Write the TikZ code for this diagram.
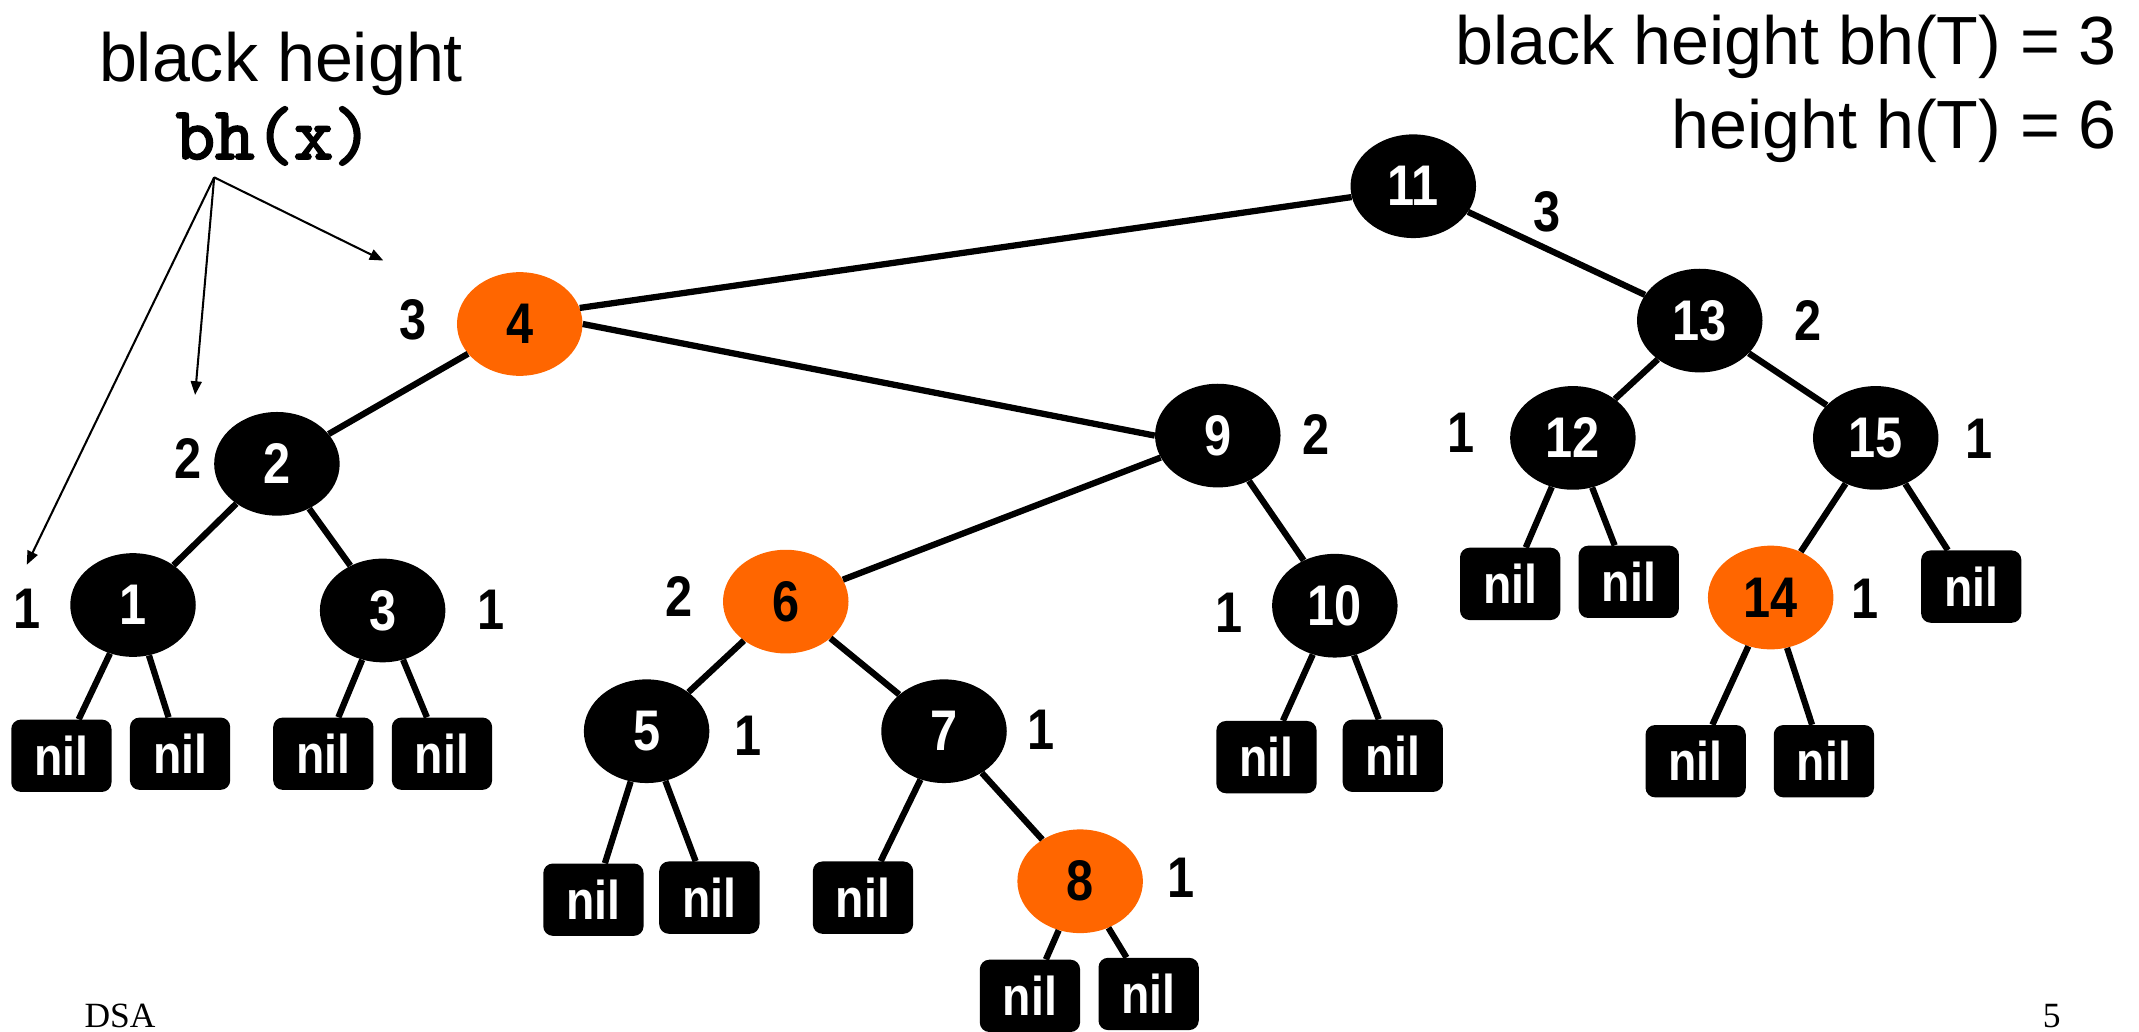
\documentclass[tikz,border=0pt]{standalone}
\usepackage{fontspec}
\setmainfont{Liberation Sans}
\newfontfamily\nb[FakeStretch=0.85]{Liberation Sans}
\newfontfamily\tms{Liberation Serif}
\newfontfamily\cmono[FakeBold=2.5]{lmmono10-regular.otf}
\usetikzlibrary{shapes.geometric,arrows.meta}
\definecolor{rbred}{RGB}{255,102,0}
\tikzset{
  rbnode/.style={ellipse, minimum width=92pt, minimum height=76pt, inner sep=0pt,
    font={\nb\bfseries\fontsize{42}{42}\selectfont}},
  blk/.style={rbnode, fill=black, text=white},
  redn/.style={rbnode, fill=rbred, text=black},
  nilbox/.style={rectangle, rounded corners=7pt, fill=black, text=white,
    minimum width=73.5pt, minimum height=53pt, inner sep=0pt,
    font={\nb\bfseries\fontsize{40}{40}\selectfont}},
  bhlabel/.style={inner sep=0pt, font={\nb\bfseries\fontsize{42}{42}\selectfont}},
  edge/.style={line width=4.6pt},
  pointer/.style={line width=1.5pt, -{Triangle[length=10pt,width=8pt]}},
  titletext/.style={inner sep=0pt, font={\fontsize{50}{50}\selectfont}},
}
\begin{document}
\begin{tikzpicture}[x=1pt,y=-1pt]
\useasboundingbox (0,0) rectangle (1568,756);
% titles
\node[titletext, anchor=base] (tleft) at (206,60) {black height};
\node[inner sep=0pt, anchor=base, font={\cmono\fontsize{55}{55}\selectfont}] (tbhx) at (201,116.5) {bh(x)};
\node[titletext, anchor=base east] (tr1) at (1552,47) {black height bh(T) = 3};
\node[titletext, anchor=base east] (tr2) at (1552,109) {height h(T) = 6};
% tree nodes
\node[blk]  (n11) at (1036,136.5) {11};
\node[redn] (n4)  at (381,237.5) {4};
\node[blk]  (n13) at (1246,235) {13};
\node[blk]  (n2)  at (203,340) {2};
\node[blk]  (n9)  at (892.7,319.3) {9};
\node[blk]  (n12) at (1153,321) {12};
\node[blk]  (n15) at (1375,321) {15};
\node[blk]  (n1)  at (97.5,443.5) {1};
\node[blk]  (n3)  at (280.5,447.5) {3};
\node[redn] (n6)  at (576,441) {6};
\node[blk]  (n10) at (978.5,444) {10};
\node[redn] (n14) at (1298,438) {14};
\node[blk]  (n5)  at (474,536) {5};
\node[blk]  (n7)  at (692,536) {7};
\node[redn] (n8)  at (791.8,646) {8};
% nil leaves
\node[nilbox] (l1a) at (45,554) {nil};
\node[nilbox] (l1b) at (132,552.5) {nil};
\node[nilbox] (l3a) at (237,552.5) {nil};
\node[nilbox] (l3b) at (324,552.5) {nil};
\node[nilbox] (l5a) at (435,659.5) {nil};
\node[nilbox] (l5b) at (520,658) {nil};
\node[nilbox] (l7a) at (632.6,658) {nil};
\node[nilbox] (l8a) at (755,730) {nil};
\node[nilbox] (l8b) at (842,728.6) {nil};
\node[nilbox] (l10a) at (928.4,555) {nil};
\node[nilbox] (l10b) at (1021,554) {nil};
\node[nilbox] (l12a) at (1107,428) {nil};
\node[nilbox] (l12b) at (1194,426.5) {nil};
\node[nilbox] (l15b) at (1445,430) {nil};
\node[nilbox] (l14a) at (1243,558) {nil};
\node[nilbox] (l14b) at (1337,558) {nil};
% black-height labels
\node[bhlabel] (h11) at (1134,155) {3};
\node[bhlabel] (h4)  at (303,234.5) {3};
\node[bhlabel] (h13) at (1325.5,235) {2};
\node[bhlabel] (h2)  at (138,336) {2};
\node[bhlabel] (h9)  at (965,318.7) {2};
\node[bhlabel] (h12) at (1071,317) {1};
\node[bhlabel] (h15) at (1451,322) {1};
\node[bhlabel] (h1)  at (20,446) {1};
\node[bhlabel] (h3)  at (360,447) {1};
\node[bhlabel] (h6)  at (498,437.5) {2};
\node[bhlabel] (h10) at (901,449) {1};
\node[bhlabel] (h14) at (1367,438.6) {1};
\node[bhlabel] (h5)  at (548,539) {1};
\node[bhlabel] (h7)  at (763,535) {1};
\node[bhlabel] (h8)  at (866,643.5) {1};
% edges
\draw[edge] (n11.190) -- (n4.15);
\draw[edge] (n11) -- (n13);
\draw[edge] (n4) -- (n2);
\draw[edge] (n4.east) -- (n9.west);
\draw[edge] (n2) -- (n1);
\draw[edge] (n2) -- (n3);
\draw[edge] (n9) -- (n6);
\draw[edge] (n9) -- (n10);
\draw[edge] (n6) -- (n5);
\draw[edge] (n6) -- (n7);
\draw[edge] (n7) -- (n8);
\draw[edge] (n13) -- (n12);
\draw[edge] (n13) -- (n15);
\draw[edge] (n15) -- (n14);
\draw[edge] (n1) -- (l1a);
\draw[edge] (n1) -- (l1b);
\draw[edge] (n3) -- (l3a);
\draw[edge] (n3) -- (l3b);
\draw[edge] (n5) -- (l5a);
\draw[edge] (n5) -- (l5b);
\draw[edge] (n7) -- (l7a);
\draw[edge] (n8) -- (l8a);
\draw[edge] (n8) -- (l8b);
\draw[edge] (n10) -- (l10a);
\draw[edge] (n10) -- (l10b);
\draw[edge] (n12) -- (l12a);
\draw[edge] (n12) -- (l12b);
\draw[edge] (n15) -- (l15b);
\draw[edge] (n14) -- (l14a);
\draw[edge] (n14) -- (l14b);
% pointer arrows
\coordinate (src) at (157,130);
\coordinate (tip1) at (19.6,414);
\coordinate (tip2) at (143,289.5);
\coordinate (tip3) at (281,191);
\draw[pointer] (src) -- (tip1);
\draw[pointer] (src) -- (tip2);
\draw[pointer] (src) -- (tip3);
% footer
\node[inner sep=0pt, anchor=base, font={\tms\fontsize{26}{26}\selectfont}] (dsa) at (88,753) {DSA};
\node[inner sep=0pt, anchor=base, font={\tms\fontsize{26}{26}\selectfont}] (pg) at (1504,753) {5};
\end{tikzpicture}
\end{document}
